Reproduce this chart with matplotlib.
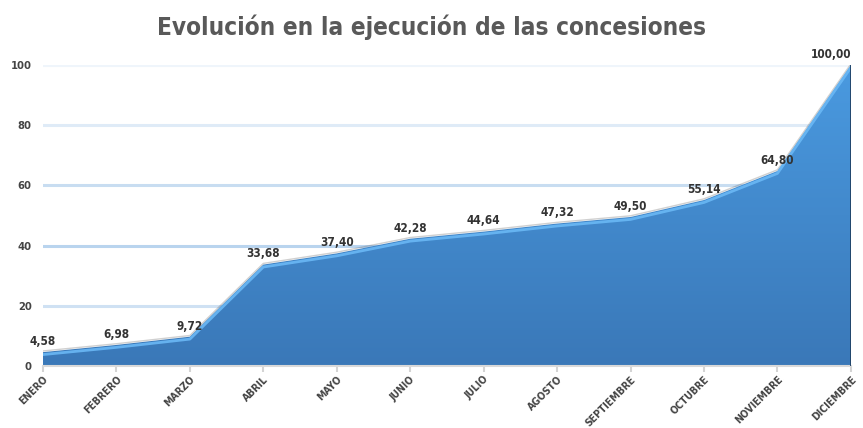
import matplotlib.pyplot as plt
import numpy as np
from matplotlib.patches import Polygon
from matplotlib.colors import LinearSegmentedColormap

meses = ['ENERO', 'FEBRERO', 'MARZO', 'ABRIL', 'MAYO', 'JUNIO', 'JULIO',
         'AGOSTO', 'SEPTIEMBRE', 'OCTUBRE', 'NOVIEMBRE', 'DICIEMBRE']
valores = [4.58, 6.98, 9.72, 33.68, 37.40, 42.28, 44.64, 47.32, 49.50, 55.14, 64.80, 100.00]
yticks = [0, 20, 40, 60, 80, 100]

fuente = ['DejaVu Sans']

fig = plt.figure(figsize=(8.63, 4.28), dpi=100)
ax = fig.add_axes([0.0498, 0.145, 0.9362, 0.703])
x = np.arange(len(meses))

# gridlines, each a slightly different light blue
grid_colors = {20: '#cfe1f3', 40: '#b9d4ee', 60: '#c8ddf1', 80: '#dfebf7', 100: '#eff5fb'}
for v, c in grid_colors.items():
    ax.axhline(v, color=c, lw=2.2, zorder=0)

# area with vertical gradient
verts = [(x[0], 0)] + list(zip(x, valores)) + [(x[-1], 0)]
poly = Polygon(verts, closed=True, facecolor='none', edgecolor='none')
ax.add_patch(poly)
grad = np.linspace(1, 0, 256).reshape(-1, 1)
cmap = LinearSegmentedColormap.from_list('azul', ['#3a78b8', '#4a9ae0'])
im = ax.imshow(grad, cmap=cmap, extent=[x[0], x[-1], 0, 100], aspect='auto',
               origin='upper', zorder=2)
im.set_clip_path(poly)

# bevel: thin shadow above, highlight below the edge
ax.plot(x, np.array(valores) + 0.4, color='#444444', lw=1.0, alpha=0.25, zorder=3)
ax.plot(x, np.array(valores) - 0.8, color='#6ab8f5', lw=2.0, alpha=0.9, zorder=3)
ax.plot([x[-1], x[-1]], [0, valores[-1]], color='#1d3f63', lw=2, zorder=3)

for i, v in enumerate(valores):
    ha = 'right' if i == len(valores) - 1 else 'center'
    ax.annotate(f'{v:.2f}'.replace('.', ','), (x[i], v), xytext=(0, 3),
                textcoords='offset points', ha=ha, va='bottom',
                fontsize=8.5, fontweight='bold', color='#333333',
                family=fuente, fontstretch='condensed', zorder=5, annotation_clip=False)

ax.set_xlim(x[0], x[-1])
ax.set_ylim(0, 100)
ax.set_yticks(yticks)
ax.set_yticklabels([str(t) for t in yticks], fontsize=8, fontweight='bold',
                   color='#444444', family=fuente, fontstretch='condensed')
ax.set_xticks(x)
ax.set_xticklabels(meses, rotation=45, ha='right', rotation_mode='anchor',
                   fontsize=7.5, fontweight='bold', color='#444444', family=fuente,
                   fontstretch='condensed')
ax.tick_params(axis='y', length=0, pad=8)
ax.tick_params(axis='x', length=4, color='#d4d4d4', width=1.5, pad=2)

for s in ['top', 'right', 'left']:
    ax.spines[s].set_visible(False)
ax.spines['bottom'].set_color('#d9d9d9')
ax.spines['bottom'].set_linewidth(1.5)

fig.suptitle('Evolución en la ejecución de las concesiones', y=0.965,
             fontsize=17.5, fontweight='bold', color='#595959', family=fuente,
             fontstretch='condensed')

fig.savefig('out.png', dpi=100)
